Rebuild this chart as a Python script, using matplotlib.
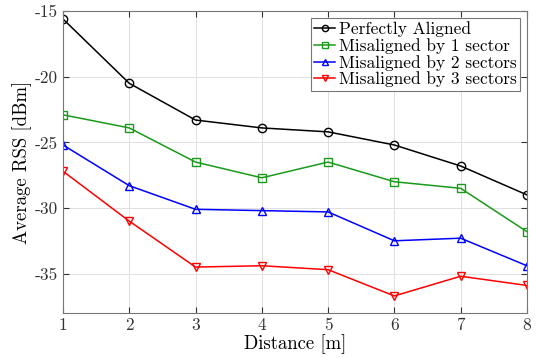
import matplotlib
matplotlib.use("Agg")
import matplotlib.pyplot as plt

plt.rcParams["font.family"] = "serif"
plt.rcParams["font.serif"] = ["cmr10", "DejaVu Serif"]
plt.rcParams["mathtext.fontset"] = "cm"
plt.rcParams["axes.unicode_minus"] = False
plt.rcParams["axes.formatter.use_mathtext"] = False

# Data
distance = [1, 2, 3, 4, 5, 6, 7, 8]
aligned = [-15.6, -20.5, -23.3, -23.9, -24.2, -25.2, -26.8, -29.0]
mis1 = [-22.9, -23.9, -26.5, -27.7, -26.5, -28.0, -28.5, -31.8]
mis2 = [-25.2, -28.3, -30.1, -30.2, -30.3, -32.5, -32.3, -34.4]
mis3 = [-27.2, -31.0, -34.5, -34.4, -34.7, -36.7, -35.2, -35.9]

fig = plt.figure(figsize=(5.36, 3.58), dpi=100)
ax = fig.add_axes([0.1175, 0.1257, 0.8655, 0.8433])

kw = dict(markerfacecolor="none", markersize=6, linewidth=1.1, markeredgewidth=1.0)
ax.plot(distance, aligned, "-o", color="black", label="Perfectly Aligned", **kw)
ax.plot(distance, mis1, "-s", color="#1a9a1a", label="Misaligned by 1 sector", **kw)
ax.plot(distance, mis2, "-^", color="#0000ff", label="Misaligned by 2 sectors", **kw)
ax.plot(distance, mis3, "-v", color="#ff0000", label="Misaligned by 3 sectors", **kw)

ax.set_xlim(1, 8)
ax.set_ylim(-38, -15)
ax.set_xticks(distance)
ax.set_yticks([-35, -30, -25, -20, -15])
ax.grid(True, color="#e0e0e0", linewidth=0.7)
ax.tick_params(direction="in", top=True, right=True, labelsize=12.5, colors="#333333", length=4)
for s in ax.spines.values():
    s.set_color("#777777")
ax.set_xlabel("Distance [m]", fontsize=13.5, labelpad=1)
ax.set_ylabel("Average RSS [dBm]", fontsize=13.5, labelpad=2)

leg = ax.legend(loc="upper right", fontsize=12.5, handlelength=1.2, handletextpad=0.2,
                borderpad=0.2, labelspacing=0.05, borderaxespad=0.4, fancybox=False,
                framealpha=1, markerscale=0.75)
leg.get_frame().set_edgecolor("#777777")
leg.get_frame().set_linewidth(0.8)

fig.savefig("out.png", dpi=100)
